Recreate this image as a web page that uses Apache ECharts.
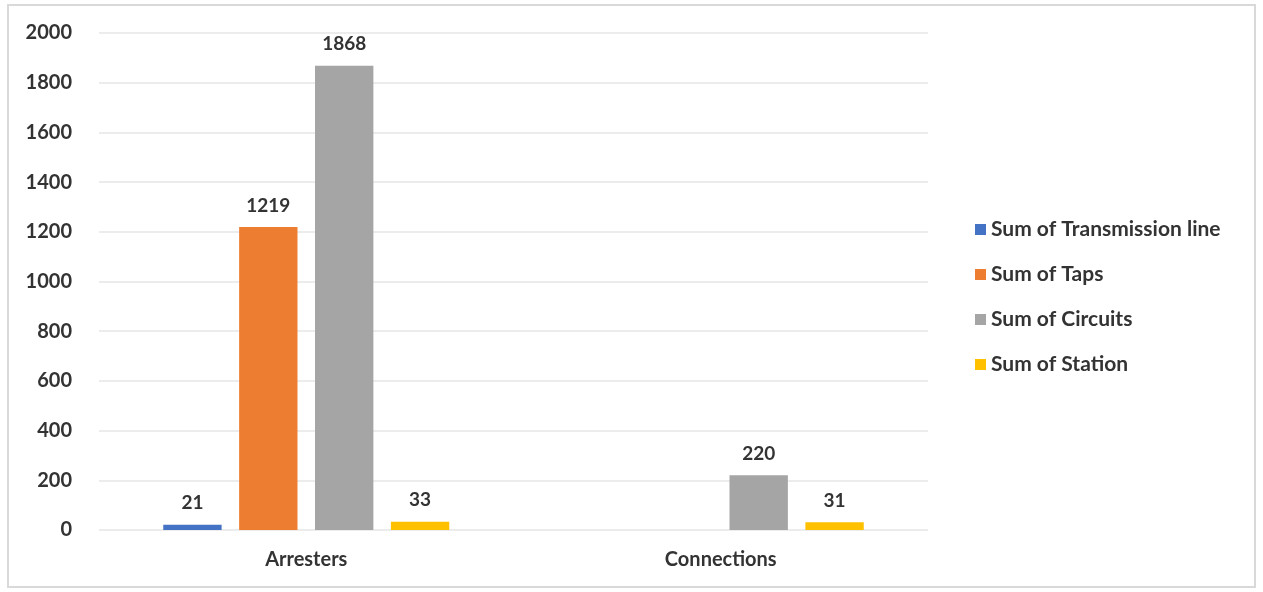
<!DOCTYPE html>
<html>
<head>
<meta charset="utf-8">
<script src="https://cdn.jsdelivr.net/npm/echarts@6/dist/echarts.min.js"></script>
<style>
  html, body { margin: 0; padding: 0; background: #fff; }
  #main { width: 1263px; height: 592px; }
</style>
</head>
<body>
<div id="main"></div>
<script>
const categories = ['Arresters', 'Connections'];
const transmissionLine = [21, null];
const taps = [1219, null];
const circuits = [1868, 220];
const station = [33, 31];

const chart = echarts.init(document.getElementById('main'));

const labelStyle = {
  show: true,
  position: 'top',
  distance: 12,
  color: '#333',
  fontSize: 19,
  fontWeight: 'bold',
  fontFamily: 'Lato'
};

function makeSeries(name, data, color) {
  return {
    name: name,
    type: 'bar',
    data: data,
    barGap: '30%',
    barCategoryGap: '31%',
    itemStyle: { color: color },
    label: labelStyle
  };
}

chart.setOption({
  animation: false,
  textStyle: { fontFamily: 'Lato' },
  graphic: [{
    type: 'rect',
    shape: { x: 8, y: 5, width: 1247, height: 582 },
    style: { fill: 'none', stroke: '#d9d9d9', lineWidth: 2 },
    silent: true
  }],
  grid: { left: 99, right: 335, top: 33, bottom: 62 },
  legend: {
    orient: 'vertical',
    left: 970,
    top: 214,
    itemWidth: 11,
    itemHeight: 11,
    itemGap: 24,
    icon: 'rect',
    textStyle: { color: '#333', fontSize: 21, fontWeight: 'bold', fontFamily: 'Lato' }
  },
  xAxis: {
    type: 'category',
    data: categories,
    axisLine: { show: false },
    axisTick: { show: false },
    axisLabel: { color: '#333', fontSize: 20, fontWeight: 'bold', margin: 20 }
  },
  yAxis: {
    type: 'value',
    min: 0,
    max: 2000,
    interval: 200,
    axisLine: { show: false },
    axisTick: { show: false },
    axisLabel: {
      color: '#333', fontSize: 20, fontWeight: 'bold', margin: 27,
      formatter: function (v) { return String(v); }
    },
    splitLine: { lineStyle: { color: '#e6e6e6', width: 1.5 } }
  },
  series: [
    makeSeries('Sum of Transmission line', transmissionLine, '#4472C4'),
    makeSeries('Sum of Taps', taps, '#ED7D31'),
    makeSeries('Sum of Circuits', circuits, '#A5A5A5'),
    makeSeries('Sum of Station', station, '#FFC000')
  ]
});
</script>
</body>
</html>
